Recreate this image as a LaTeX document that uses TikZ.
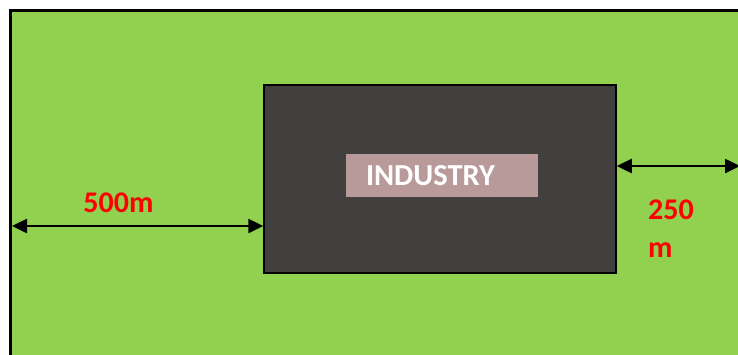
\documentclass[tikz,border=0pt]{standalone}
\usepackage{fontspec}
\setmainfont{Carlito}
\usetikzlibrary{arrows.meta}
\definecolor{field}{RGB}{146,208,80}
\definecolor{plant}{RGB}{66,64,63}
\definecolor{tag}{RGB}{185,154,154}
\begin{document}
\begin{tikzpicture}[x=1pt,y=-1pt,
  every path/.style={>={Triangle[length=15pt,width=14pt]}},
  dist/.style={text=red,font=\bfseries\fontsize{30}{38}\selectfont,inner sep=0pt}]
\useasboundingbox (0,0) rectangle (738,354);
\clip (0,0) rectangle (738,354);
\draw[fill=field,line width=2.5pt] (10.5,10.5) rectangle (760,380);
\node[draw,line width=1.5pt,fill=plant,minimum width=352pt,minimum height=188pt] (ind) at (440,179) {};
\node[fill=tag,minimum width=192pt,minimum height=43pt,text width=152pt,inner xsep=20pt,inner ysep=0pt,align=left,text=white,font=\bfseries\fontsize{30.5}{36}\selectfont] (lbl) at (442,175.5) {INDUSTRY};
\coordinate (w) at (12,226);
\coordinate (e) at (740,166);
\draw[<->,line width=2.5pt] (w) -- (w -| ind.west);
\draw[<->,line width=2.5pt] (e -| ind.east) -- (e);
\node[dist,anchor=base] (d1) at (118.5,212) {500m};
\node[dist,anchor=base west,align=left] (d2) at (648,257) {250\\m};
\end{tikzpicture}
\end{document}
